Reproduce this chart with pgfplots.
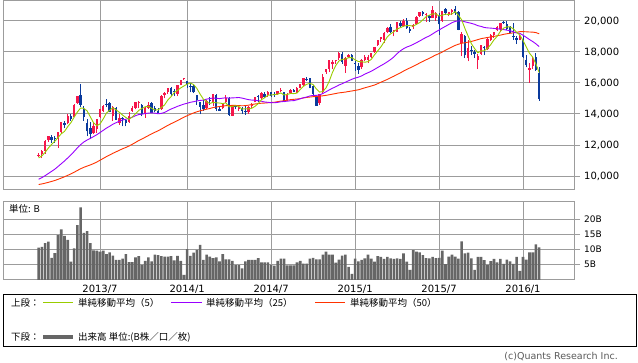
\documentclass[border=0pt]{standalone}
\usepackage{pgfplots}
\pgfplotsset{compat=1.18}
\usepackage{pgfplotstable}
\usepackage{fontspec}
\setmainfont{DejaVu Sans}
\newfontfamily\jp{Noto Sans CJK JP}
\definecolor{upc}{HTML}{F5164A}
\definecolor{dnc}{HTML}{0A3A9C}
\definecolor{mafive}{HTML}{99CC00}
\definecolor{matwentyfive}{HTML}{9900FF}
\definecolor{mafifty}{HTML}{FF3300}
\definecolor{gridc}{HTML}{9C9C9C}
\definecolor{volc}{HTML}{666666}
\pgfplotstableread{
i o h l c v m5 m25 m50
0 11300 11500 11250 11386 10.6 11166 9788 9449
1 11400 11662 11150 11606 10.9 11302 9897 9489
2 11600 12300 11450 12283 12.1 11520 10022 9536
3 12300 12560 12200 12560 12.6 11802 10160 9590
4 12500 12650 12150 12338 7.3 12035 10299 9650
5 12400 12600 12130 12397 8.8 12237 10440 9710
6 12400 12860 11800 12834 14.7 12482 10612 9786
7 12850 13500 12800 13485 16.6 12723 10791 9866
8 13400 13550 13100 13317 14.5 12874 10967 9949
9 13400 13980 13350 13884 13.2 13183 11164 10042
10 13900 14000 13550 13694 6.0 13443 11362 10136
11 13800 14650 13800 14608 10.4 13798 11585 10243
12 14700 15160 14650 15138 18.0 14128 11816 10358
13 15200 15942 14480 14612 23.8 14387 12023 10467
14 14300 14500 13550 13775 15.5 14365 12193 10562
15 13400 13700 12550 12877 16.0 14202 12318 10639
16 13100 13500 12415 12686 12.1 13818 12428 10714
17 12800 13400 12700 13230 9.7 13436 12542 10801
18 13000 13700 12800 13677 9.6 13249 12661 10901
19 13800 14350 13750 14310 9.3 13356 12802 11016
20 14200 14600 14100 14506 9.6 13682 12945 11133
21 14600 14950 14450 14589 8.5 14062 13092 11251
22 14700 14800 14100 14130 9.1 14242 13209 11355
23 13900 14500 13550 14467 8.0 14400 13342 11466
24 14400 14450 13600 13615 6.6 14261 13440 11563
25 13450 14000 13300 13752 6.6 14111 13534 11661
26 13700 13800 13200 13660 7.0 13925 13616 11757
27 13600 13700 13200 13389 8.5 13777 13661 11842
28 13500 14100 13450 13860 5.9 13655 13713 11937
29 14200 14500 14150 14404 5.9 13813 13795 12047
30 14400 14800 14300 14742 7.4 14011 13889 12165
31 14750 14820 14400 14760 7.8 14231 13966 12289
32 14600 14650 13850 14024 5.0 14358 13988 12390
33 14000 14450 13750 14405 6.3 14467 14031 12499
34 14400 14800 14350 14561 7.4 14498 14058 12611
35 14700 14800 14050 14088 6.1 14368 14074 12718
36 14400 14500 14100 14201 8.3 14256 14058 12822
37 14200 14400 14050 14086 8.2 14268 14016 12916
38 14300 15200 14250 15166 7.8 14420 14038 13031
39 15200 15400 15000 15382 7.7 14585 14102 13148
40 15400 15700 15300 15662 7.7 14899 14213 13266
41 15700 15750 15150 15300 7.8 15119 14318 13373
42 15500 15600 15150 15403 6.4 15383 14405 13474
43 15300 15900 15150 15870 7.9 15523 14493 13577
44 15900 16200 15850 16174 6.3 15682 14568 13685
45 16250 16320 16200 16291 1.7 15808 14639 13792
46 16100 16150 15700 15912 10.1 15930 14692 13892
47 15800 16000 15400 15734 7.9 15996 14756 13983
48 15800 15950 15350 15391 9.0 15900 14793 14068
49 15200 15200 14600 14915 9.9 15649 14845 14143
50 14800 14800 13995 14462 11.5 15283 14873 14204
51 14600 14900 14200 14313 6.6 14963 14899 14258
52 14400 14900 14300 14866 8.3 14789 14958 14310
53 14900 15100 14600 14841 7.7 14679 14997 14355
54 14700 15300 14500 15274 7.2 14751 15032 14414
55 15200 15300 14200 14328 7.4 14724 15015 14452
56 14300 14500 14200 14224 6.1 14707 14994 14480
57 14400 14700 14300 14696 8.5 14673 15021 14505
58 14800 15200 14700 15063 6.8 14717 15047 14539
59 15000 15100 13900 13960 6.8 14454 15023 14541
60 13900 14550 13850 14516 6.3 14492 15040 14557
61 14500 14600 14300 14429 4.9 14533 15049 14554
62 14300 14500 14200 14457 4.9 14485 15064 14540
63 14400 14450 14000 14200 3.8 14312 15025 14532
64 14200 14500 13950 14097 6.1 14340 14974 14538
65 14100 14500 14000 14462 6.6 14329 14926 14570
66 14500 14700 14400 14632 6.6 14370 14899 14609
67 14800 15100 14750 15077 6.6 14494 14886 14646
68 15100 15200 14800 15097 7.2 14673 14855 14674
69 15000 15400 14900 15349 5.8 14923 14822 14695
70 15300 15400 15050 15095 5.8 15050 14774 14707
71 15200 15500 15100 15437 5.8 15211 14755 14724
72 15400 15450 15100 15164 5.0 15228 14732 14744
73 15300 15400 15100 15215 4.7 15252 14725 14759
74 15300 15500 15250 15457 6.3 15274 14747 14796
75 15500 15700 15450 15523 7.0 15359 14789 14831
76 15400 15450 14750 14778 7.0 15227 14808 14854
77 14900 15350 14850 15318 4.8 15258 14826 14892
78 15350 15600 15300 15539 4.8 15323 14854 14926
79 15550 15600 15400 15425 4.8 15317 14860 14946
80 15400 15750 15380 15669 5.8 15346 14914 14965
81 15700 15950 15650 15948 6.3 15580 14983 14989
82 15900 16350 15800 16321 5.4 15780 15048 15035
83 16250 16375 16100 16229 5.4 15918 15095 15071
84 16300 16350 15650 15709 7.0 15975 15165 15094
85 15800 15850 15200 15300 7.3 15901 15196 15118
86 15100 15150 14530 14533 6.8 15618 15200 15125
87 14700 15300 14600 15292 6.8 15413 15233 15149
88 15400 16550 15300 16414 8.3 15450 15322 15174
89 16700 16900 16600 16881 9.3 15684 15433 15204
90 16900 17500 16700 17491 8.3 16122 15554 15240
91 17200 17500 16900 17358 8.3 16687 15663 15281
92 17400 17500 17200 17460 5.7 17121 15758 15322
93 17600 18030 17500 17921 6.7 17422 15871 15363
94 17900 18000 17250 17371 8.0 17520 15952 15387
95 17100 17650 16670 17621 8.3 17546 16053 15414
96 17700 17900 17600 17818 4.3 17638 16148 15452
97 17800 17900 17450 17451 2.0 17636 16240 15486
98 17300 17400 16800 17198 7.0 17492 16319 15522
99 17100 17300 16600 16864 6.1 17390 16375 15561
100 17000 17550 16900 17512 6.6 17369 16455 15622
101 17500 17800 17400 17674 7.1 17340 16571 15690
102 17500 17800 17300 17648 8.3 17379 16664 15745
103 17700 17950 17600 17913 7.0 17522 16759 15807
104 18000 18350 17950 18332 6.0 17816 16875 15868
105 18450 18800 18400 18798 7.8 18073 17000 15957
106 18850 18975 18650 18971 7.6 18332 17121 16052
107 18800 19300 18600 19254 6.9 18654 17238 16143
108 19300 19600 19200 19560 7.6 18983 17371 16233
109 19600 19780 19250 19286 7.1 19174 17514 16340
110 19400 19450 19000 19435 6.9 19301 17680 16438
111 19300 19950 19300 19908 7.1 19489 17895 16548
112 19900 20000 19600 19653 6.9 19568 18069 16651
113 19700 20150 19600 20020 8.7 19660 18213 16768
114 20000 20200 19500 19532 6.0 19710 18319 16876
115 19500 19600 19250 19380 3.3 19699 18395 16975
116 19600 19800 19500 19733 9.8 19664 18490 17077
117 19800 20300 19750 20264 9.3 19786 18602 17180
118 20300 20600 20250 20563 9.1 19894 18708 17290
119 20550 20650 20300 20461 8.2 20080 18831 17392
120 20400 20500 19950 20407 7.2 20286 18943 17498
121 20350 20400 19950 20174 7.1 20374 19037 17593
122 20200 20950 20200 20706 7.6 20462 19167 17704
123 20200 20600 20000 20540 7.2 20458 19301 17810
124 20400 20500 19115 19780 7.3 20321 19418 17897
125 20000 20650 19950 20650 9.6 20370 19543 17999
126 20800 20850 20400 20545 5.2 20444 19658 18115
127 20400 20600 20300 20585 7.7 20420 19775 18220
128 20600 20800 20400 20724 8.3 20457 19888 18324
129 20800 20950 20400 20520 7.7 20605 19976 18426
130 20600 20650 19400 19436 7.0 20362 20001 18501
131 18600 19300 17714 19136 12.7 20080 20008 18565
132 19000 19100 17600 17792 8.7 19522 19949 18594
133 17600 18800 17400 18264 9.0 19030 19897 18634
134 18100 18400 17800 18070 7.1 18540 19849 18682
135 18000 18100 17600 17880 3.3 18228 19787 18734
136 17500 17900 16900 17725 7.6 17946 19700 18798
137 17900 18450 17800 18438 7.6 18075 19651 18860
138 18300 18400 17800 18291 6.5 18081 19582 18898
139 18200 18900 18100 18825 5.0 18232 19554 18937
140 18800 19150 18700 19083 6.2 18472 19542 18969
141 19100 19300 18900 19265 6.9 18780 19523 19007
142 19400 19700 19350 19597 5.8 19012 19496 19049
143 19500 19900 19300 19880 6.9 19330 19469 19089
144 19900 20000 19800 19884 5.3 19542 19446 19139
145 19800 20012 19400 19504 6.7 19626 19410 19177
146 19600 19700 19200 19231 6.1 19619 19372 19205
147 19000 19900 18800 18987 5.3 19497 19303 19235
148 18900 19000 18500 18770 7.6 19275 19232 19267
149 18800 19100 18750 19034 3.0 19105 19202 19310
150 18800 19000 17600 17698 7.6 18744 19084 19314
151 17500 17800 17000 17147 6.7 18327 18948 19303
152 16850 17300 16017 16958 9.1 17921 18803 19289
153 17100 17700 16900 17518 9.1 17671 18675 19282
154 17700 17950 16800 16819 11.7 17228 18527 19252
155 16640 17000 14865 14953 10.7 16679 18348 19175
}\data
\pgfplotsset{
  panel/.style={
    scale only axis, width=571pt, xmin=-11.04, xmax=165.79,
    xtick={19,46,72,98,124,150},
    grid=major, major grid style={draw=gridc, line width=1pt},
    axis line style={draw=gridc, line width=1pt},
    ytick pos=right, yticklabel pos=right, tick align=outside,
    major tick length=6pt,
    xtick style={draw=none}, ytick style={draw=gridc, line width=1pt},
    yticklabel style={anchor=west, inner sep=0pt, xshift=4pt},
    scaled y ticks=false,
    /pgf/number format/1000 sep={,},
    /pgf/number format/assume math mode=true,
  },
  upfilt/.style={x filter/.expression={\thisrow{c}>=\thisrow{o} ? x : nan}},
  dnfilt/.style={x filter/.expression={\thisrow{c}<\thisrow{o} ? x : nan}},
}
\begin{document}
\begin{tikzpicture}
\useasboundingbox (0pt,0pt) rectangle (638pt,362pt);
\begin{axis}[panel, at={(3pt,172pt)}, anchor=south west, height=189.5pt,
  ymin=9097, ymax=21322, ytick={10000,12000,14000,16000,18000,20000},
  xticklabels={,,,,,},
  yticklabel style={font=\fontsize{10}{12}\selectfont}]
% wicks
\addplot[forget plot, draw=none, mark=none, upfilt,
  error bars/.cd, y dir=plus, y explicit, error mark=none,
  error bar style={draw=upc, line width=1pt}]
  table[x=i, y=l, y error plus expr=\thisrow{h}-\thisrow{l}] {\data};
\addplot[forget plot, draw=none, mark=none, dnfilt,
  error bars/.cd, y dir=plus, y explicit, error mark=none,
  error bar style={draw=dnc, line width=1pt}]
  table[x=i, y=l, y error plus expr=\thisrow{h}-\thisrow{l}] {\data};
% bodies
\addplot[forget plot, draw=none, mark=none, upfilt,
  error bars/.cd, y dir=plus, y explicit, error mark=none,
  error bar style={draw=upc, line width=2.4pt}]
  table[x=i, y expr={min(\thisrow{o},\thisrow{c})}, y error plus expr={max(abs(\thisrow{c}-\thisrow{o}),50)}] {\data};
\addplot[forget plot, draw=none, mark=none, dnfilt,
  error bars/.cd, y dir=plus, y explicit, error mark=none,
  error bar style={draw=dnc, line width=2.4pt}]
  table[x=i, y expr={min(\thisrow{o},\thisrow{c})}, y error plus expr={max(abs(\thisrow{c}-\thisrow{o}),50)}] {\data};
% moving averages
\addplot[mafifty, line width=0.9pt, mark=none] table[x=i, y=m50] {\data};
\addplot[matwentyfive, line width=0.9pt, mark=none] table[x=i, y=m25] {\data};
\addplot[mafive, line width=0.9pt, mark=none] table[x=i, y=m5] {\data};
\end{axis}
\begin{axis}[panel, at={(3pt,82pt)}, anchor=south west, height=78pt,
  ymin=0, ymax=25.6, ytick={5,10,15,20}, yticklabels={5B,10B,15B,20B},
  xticklabels={2013/7,2014/1,2014/7,2015/1,2015/7,2016/1},
  xticklabel style={anchor=north, inner sep=0pt, yshift=1pt, font=\fontsize{10}{12}\selectfont},
  yticklabel style={font=\fontsize{9}{11}\selectfont}]
\addplot[ybar, bar width=2.6pt, fill=volc, draw=none] table[x=i, y=v] {\data};
\end{axis}
\node[anchor=west, inner sep=0pt, font=\jp\fontsize{9.5}{11}\selectfont] at (9pt,153pt) {単位: B};
% legend
\draw[black, line width=1pt] (3pt,16pt) rectangle (636pt,67pt);
\begin{scope}[every node/.style={anchor=west, inner sep=0pt, font=\jp\fontsize{9.5}{11}\selectfont}]
\node at (11pt,59pt) {上段：};
\draw[mafive, line width=1pt] (43pt,59pt) -- (73pt,59pt);
\node at (78pt,59pt) {単純移動平均（5）};
\draw[matwentyfive, line width=1pt] (171pt,59pt) -- (202pt,59pt);
\node at (206pt,59pt) {単純移動平均（25）};
\draw[mafifty, line width=1pt] (315pt,59pt) -- (345pt,59pt);
\node at (350pt,59pt) {単純移動平均（50）};
\node at (11pt,25pt) {下段：};
\draw[volc, line width=4pt] (43pt,25pt) -- (73pt,25pt);
\node at (78pt,25pt) {出来高 単位:(B株／口／枚)};
\end{scope}
\node[anchor=east, inner sep=0pt, text=black!65, font=\fontsize{9.5}{11}\selectfont] at (618pt,5pt) {(c)Quants Research Inc.};
\end{tikzpicture}
\end{document}
